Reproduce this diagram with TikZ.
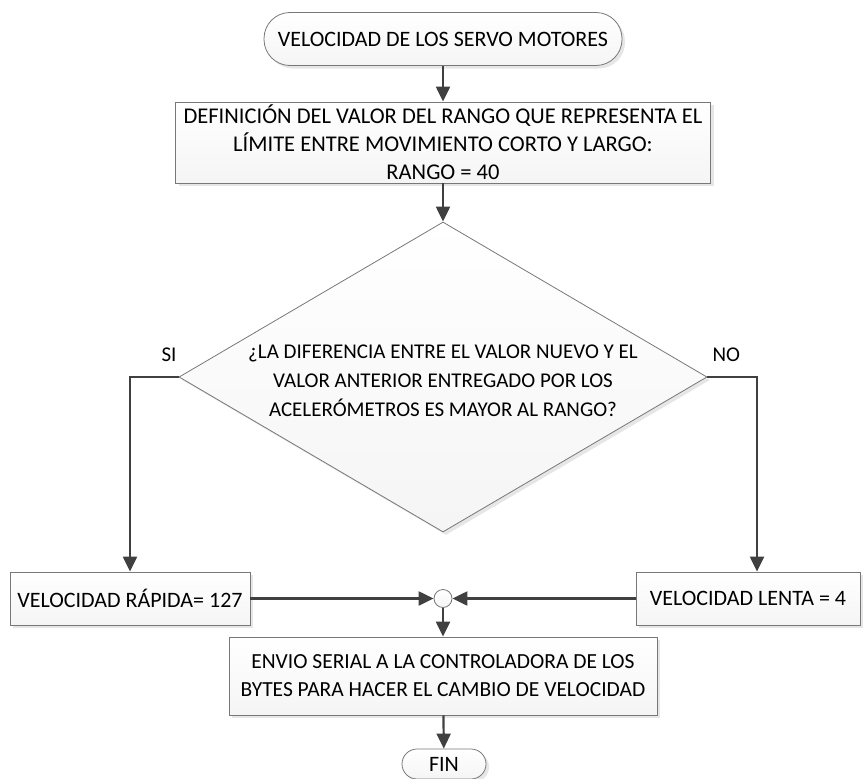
\documentclass[tikz,border=0pt]{standalone}
\usepackage{fontspec}
\setmainfont{Carlito}
\definecolor{linea}{RGB}{64,64,64}
\definecolor{borde}{RGB}{120,120,120}
\usetikzlibrary{arrows.meta, positioning, shapes.geometric, shadows}
\tikzset{
	proceso/.style={rectangle, draw=borde, top color=white, bottom color=gray!8, line width=0.8pt, align=center, inner sep=0pt, minimum height=53pt, font=\fontsize{22}{28}\selectfont, drop shadow={shadow xshift=3pt, shadow yshift=-3pt, opacity=0.2}},
	terminal/.style={proceso, rounded corners=26pt},
	decision/.style={diamond, draw=borde, top color=white, bottom color=gray!8, line width=0.8pt, inner sep=0pt, minimum width=528pt, minimum height=310pt, drop shadow={shadow xshift=3pt, shadow yshift=-3pt, opacity=0.2}},
	union/.style={circle, draw=borde, top color=white, bottom color=gray!8, line width=0.8pt, minimum size=18pt, inner sep=0pt},
	flecha/.style={-{Triangle[length=15pt, width=14pt]}, line width=2.2pt, draw=linea},
	etiqueta/.style={font=\fontsize{21}{29}\selectfont, inner sep=2pt},
}
\begin{document}
\begin{tikzpicture}[x=1pt, y=-1pt]
	\useasboundingbox (0,0) rectangle (865,779);
	\node[terminal, minimum width=358pt] (inicio) at (443,39) {VELOCIDAD DE LOS SERVO MOTORES};
	\node[proceso, minimum width=535pt, minimum height=81pt, font=\fontsize{22.5}{28}\selectfont] (rango) at (443,142.5) {DEFINICIÓN DEL VALOR DEL RANGO QUE REPRESENTA EL\\LÍMITE ENTRE MOVIMIENTO CORTO Y LARGO:\\RANGO = 40};
	\node[decision] (pregunta) at (443,377) {};
	\node[etiqueta, align=center, yshift=-4pt] (preguntatexto) at (pregunta) {¿LA DIFERENCIA ENTRE EL VALOR NUEVO Y EL\\VALOR ANTERIOR ENTREGADO POR LOS\\ACELERÓMETROS ES MAYOR AL RANGO?};
	\node[proceso, minimum width=240pt] (rapida) at (130,598.5) {VELOCIDAD RÁPIDA= 127};
	\node[proceso, minimum width=224pt] (lenta) at (748,598.5) {VELOCIDAD LENTA = 4};
	\node[union] (cruce) at (443,598.5) {};
	\node[proceso, minimum width=428pt, minimum height=78pt, font=\fontsize{21.5}{28}\selectfont] (envio) at (443,676) {ENVIO SERIAL A LA CONTROLADORA DE LOS\\BYTES PARA HACER EL CAMBIO DE VELOCIDAD};
	\node[terminal, minimum width=84pt, minimum height=30pt, rounded corners=15pt] (fin) at (444,764) {FIN};
	% conectores
	\draw[flecha] (inicio) -- (rango);
	\draw[flecha] (rango) -- (pregunta);
	\draw[flecha] (pregunta.west) -| node[etiqueta, pos=0, anchor=south east, xshift=1pt, yshift=12pt] (si) {SI} (rapida.north);
	\draw[flecha] (pregunta.east) -| node[etiqueta, pos=0, anchor=south west, xshift=2pt, yshift=12pt] (no) {NO} ([xshift=9pt]lenta.north);
	\draw[flecha] (rapida) -- (cruce);
	\draw[flecha] (lenta) -- (cruce);
	\draw[flecha] (cruce) -- (envio);
	\draw[flecha] (envio) -- (fin);
\end{tikzpicture}
\end{document}
